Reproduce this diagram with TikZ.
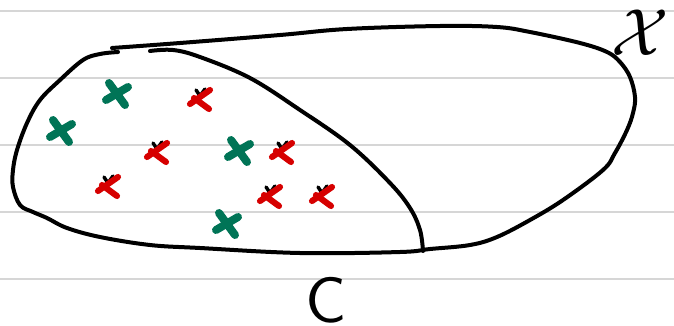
\documentclass[tikz,border=0pt]{standalone}
\usepackage{amsmath}

\definecolor{crossgreen}{RGB}{0,116,86}
\definecolor{crossred}{RGB}{214,0,0}

\tikzset{
  ruling/.style={line width=1.3pt, draw=black!16},
  outline/.style={line width=3pt, line cap=round, line join=round},
  greencross/.pic={
    \draw[crossgreen, line width=6pt, line cap=round] (-9,-10) -- (7,12);
    \draw[crossgreen, line width=6pt, line cap=round] (-12,7) -- (10,-6);
  },
  redcross/.pic={
    \draw[black, line width=2.6pt, line cap=round] (-4,-10) -- (0,-4) -- (5,-11);
    \draw[crossred, line width=4.6pt, line cap=round] (10,-10) -- (-10,4);
    \draw[crossred, line width=4.6pt, line cap=round] (-6,-2) -- (9,9);
  }
}

\begin{document}
\begin{tikzpicture}[x=0.75pt, y=-0.75pt]
    \useasboundingbox (0,0) rectangle (674,325);

    % Ruled paper lines
    \foreach \y in {11,78,145,212,279}
        \draw[ruling] (0,\y) -- (674,\y);

    % The outer region and the concept inside it
    \draw[outline] plot[smooth, tension=0.6] coordinates {
        (112,48) (180,43) (280,35) (347,29) (440,26) (497,27) (530,32)
        (580,43) (607,52) (620,62) (630,77) (635,97) (633,113) (627,130)
        (615,153) (603,170) (563,200) (530,220) (497,237) (470,245)
        (430,249) (400,252) (300,253) (200,248) (150,245) (100,237)
        (67,228) (47,218) (33,212) (20,205) (13,187) (13,170) (17,150)
        (27,123) (40,100) (60,80) (83,60) (100,54) (118,52)};
    \draw[outline] plot[smooth, tension=0.6] coordinates {
        (150,51) (173,50) (200,57) (250,78) (300,110) (350,145)
        (390,183) (410,208) (420,230) (423,251)};

    % Labels
    \node[scale=5, inner sep=0pt] (space) at (640,33) {$\mathcal{X}$};
    \node[scale=4.8, inner sep=0pt] (concept) at (326,300) {\textsf{C}};

    % Positive and negative examples
    \foreach \p in {(118,93),(62,130),(240,150),(228,223)}
        \pic at \p {greencross};
    \foreach \p in {(200,100),(157,153),(282,153),(108,187),(270,197),(322,197)}
        \pic at \p {redcross};
\end{tikzpicture}
\end{document}
